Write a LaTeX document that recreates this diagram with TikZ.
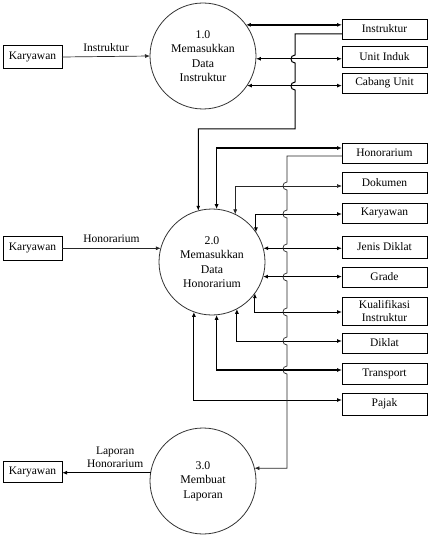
\documentclass[tikz,border=0pt]{standalone}
\usepackage{fontspec}
\setmainfont{Liberation Serif}
\usetikzlibrary{arrows.meta,calc}

\begin{document}
\begin{tikzpicture}[x=1pt,y=-1pt,
  >={Latex[length=5pt,width=4pt]},
  font=\fontsize{11.5}{13}\selectfont,
  proc/.style={circle,draw=black!80,line width=0.8pt,minimum size=106pt,
    inner sep=0pt,outer sep=0pt,align=center,
    font=\fontsize{11.8}{14.5}\selectfont},
  ext/.style={draw,line width=0.9pt,minimum width=59pt,inner sep=0pt,outer sep=0pt},
  store/.style={draw,line width=0.9pt,minimum width=85pt,inner sep=0pt,outer sep=0pt,align=center},
  heavy/.style={line width=1.4pt},
  medium/.style={line width=1pt},
  light/.style={line width=0.7pt,draw=black!85},
  lbl/.style={above=4pt,inner sep=1pt,align=center}
]
\useasboundingbox (0,0) rectangle (429,540);

% processes
\node[proc] (c1) at (203,56) {1.0\\Memasukkan\\Data\\Instruktur};
\node[proc] (c2) at (212,262) {2.0\\Memasukkan\\Data\\Honorarium};
\node[proc] (c3) at (203,481) {3.0\\Membuat\\Laporan};

% external entities
\node[ext,minimum height=23pt] (k1) at (32.5,57) {Karyawan};
\node[ext,minimum height=24pt] (k2) at (32.5,248) {Karyawan};
\node[ext,minimum height=21pt] (k3) at (32.5,472) {Karyawan};

% data stores
\node[store,minimum height=20pt] (sInstr)  at (384.5,29)   {Instruktur};
\node[store,minimum height=21pt] (sUnit)   at (384.5,56.5) {Unit Induk};
\node[store,minimum height=20pt] (sCabang) at (384.5,83)   {Cabang Unit};
\node[store,minimum height=20pt] (sHon)    at (384.5,153)  {Honorarium};
\node[store,minimum height=21pt] (sDok)    at (384.5,182.5){Dokumen};
\node[store,minimum height=20pt] (sKar)    at (384.5,213)  {Karyawan};
\node[store,minimum height=22pt] (sJenis)  at (384.5,247)  {Jenis Diklat};
\node[store,minimum height=20pt] (sGrade)  at (384.5,277)  {Grade};
\node[store,minimum height=28pt,font=\fontsize{11.5}{12.5}\selectfont] (sKual) at (384.5,311) {Kualifikasi\\Instruktur};
\node[store,minimum height=20pt] (sDiklat) at (384.5,343)  {Diklat};
\node[store,minimum height=21pt] (sTrans)  at (384.5,373.5){Transport};
\node[store,minimum height=22pt] (sPajak)  at (384.5,404)  {Pajak};

% flows from/to the external entities
\draw[light,->] (k1.east) -- node[lbl] {Instruktur} (c1.west);
\draw[light,->] (k2.east |- c2.165) -- node[lbl] {Honorarium} (c2.165);
\draw[medium,->] (c3.171) -- node[lbl,pos=0.4] {Laporan\\Honorarium} (c3.171 -| k3.east);

% process 1.0 and its stores
\draw[heavy,<->] (c1.36) -- (c1.36 -| sInstr.west);
\draw[heavy,<->] (c1.-3) -- (c1.-3 -| sUnit.west);
\draw[medium,<->] (c1.-34) -- (c1.-34 -| sCabang.west);

% Instruktur store read by process 2.0 (hops over two flows)
\draw[medium,->] ($(sInstr.west)+(0,5)$) -- (295,34)
  foreach \y in {59,86} { -- (295,\y-4) .. controls (289.7,\y-4) and (289.7,\y+4) .. (295,\y+4) }
  -- (295,129) -| (c2.105);

% process 2.0 and its stores
\draw[heavy,<->] (c2.85) |- ($(sHon.west)+(0,-5)$);
\draw[light,<->] (c2.64) |- ($(sDok.west)+(0,3.5)$);
\draw[medium,<->] (c2.34) |- ($(sKar.west)+(0,1)$);
\draw[medium,<->] (c2.15) -- (c2.15 -| sJenis.west);
\draw[medium,<->] (c2.-16) -- (c2.-16 -| sGrade.west);
\draw[medium,<->] (c2.-36) |- ($(sKual.west)+(0,1)$);
\draw[medium,<->] (c2.-62) |- ($(sDiklat.west)+(0,-2)$);
\draw[heavy,<->] (c2.-85) |- ($(sTrans.west)+(0,-3.5)$);
\draw[medium,<->] (c2.-110) |- ($(sPajak.west)+(0,-4)$);

% Honorarium store read by process 3.0 (hops over the store flows)
\draw[light,->] ($(sHon.west)+(0,3)$) -| (287,182)
  foreach \y in {186,214,248,277,312,341,370} { -- (287,\y-4) .. controls (281.7,\y-4) and (281.7,\y+4) .. (287,\y+4) }
  |- (c3.14);
\end{tikzpicture}
\end{document}
